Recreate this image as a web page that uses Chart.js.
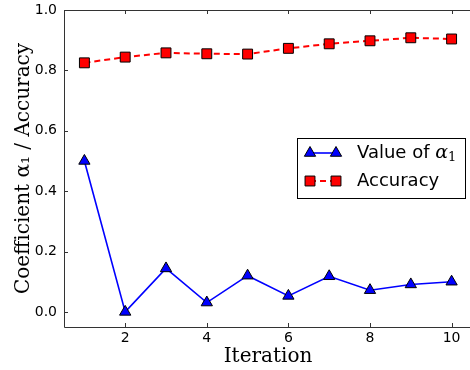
<!DOCTYPE html>
<html>
<head>
<meta charset="utf-8">
<script src="https://cdn.jsdelivr.net/npm/chart.js@4.4.2/dist/chart.umd.min.js"></script>
<style>
  html, body { margin: 0; padding: 0; background: #fff; overflow: hidden; }
  #marcoPagina { width: 470px; height: 370px; overflow: hidden; position: relative; }
  #grafico { display: block; }
</style>
</head>
<body>
<div id="marcoPagina"><canvas id="grafico" width="480" height="370"></canvas></div>
<script>
// datos
const iteraciones = [1, 2, 3, 4, 5, 6, 7, 8, 9, 10];
const valorAlfa = [0.50, 0.00, 0.144, 0.031, 0.120, 0.053, 0.118, 0.072, 0.091, 0.100];
const precision = [0.825, 0.844, 0.858, 0.855, 0.854, 0.873, 0.888, 0.898, 0.908, 0.904];
const ticksX = [2, 4, 6, 8, 10];
const ticksY = [0.0, 0.2, 0.4, 0.6, 0.8, 1.0];

// marco y marcas hacia adentro (estilo matplotlib clásico)
// el borde derecho queda fuera de la imagen, como en el original
const marco = {
  id: 'marco',
  beforeDatasetsDraw(chart) {
    const { ctx, chartArea: a, scales } = chart;
    ctx.save();
    ctx.strokeStyle = '#333';
    ctx.lineWidth = 1;
    ctx.beginPath();
    ctx.moveTo(a.right, a.top + 0.5); ctx.lineTo(a.left + 0.5, a.top + 0.5);
    ctx.lineTo(a.left + 0.5, a.bottom + 0.5); ctx.lineTo(a.right, a.bottom + 0.5);
    ctx.stroke();
    ctx.beginPath();
    ticksX.forEach(v => {
      const x = Math.round(scales.x.getPixelForValue(v)) + 0.5;
      ctx.moveTo(x, a.bottom); ctx.lineTo(x, a.bottom - 4);
      ctx.moveTo(x, a.top); ctx.lineTo(x, a.top + 4);
    });
    ticksY.forEach(v => {
      const y = Math.round(scales.y.getPixelForValue(v)) + 0.5;
      ctx.moveTo(a.left, y); ctx.lineTo(a.left + 4, y);
    });
    ctx.stroke();
    ctx.restore();
  }
};

// leyenda dentro del área, como en la figura original
const leyenda = {
  id: 'leyenda',
  afterDraw(chart) {
    const ctx = chart.ctx;
    const bx = 297, by = 138, bw = 168, bh = 60;
    ctx.save();
    ctx.fillStyle = '#fff';
    ctx.fillRect(bx, by, bw, bh);
    ctx.strokeStyle = '#000';
    ctx.lineWidth = 1;
    ctx.strokeRect(bx + 0.5, by + 0.5, bw, bh);
    const filas = [153, 181];
    chart.data.datasets.forEach((ds, i) => {
      const y = filas[i];
      ctx.save();
      ctx.strokeStyle = ds.borderColor;
      ctx.lineWidth = ds.borderWidth;
      ctx.setLineDash(ds.borderDash || []);
      ctx.beginPath();
      ctx.moveTo(310, y); ctx.lineTo(336, y);
      ctx.stroke();
      ctx.restore();
      [310, 336].forEach(x => {
        ctx.fillStyle = ds.pointBackgroundColor;
        ctx.strokeStyle = ds.pointBorderColor;
        ctx.lineWidth = ds.pointBorderWidth;
        Chart.helpers.drawPoint(ctx, {
          pointStyle: ds.pointStyle, radius: ds.pointRadius, rotation: 0,
          borderWidth: ds.pointBorderWidth
        }, x, y);
      });
    });
    ctx.fillStyle = '#000';
    ctx.textBaseline = 'middle';
    ctx.font = '18px "DejaVu Sans"';
    ctx.fillText('Value of ', 357, filas[0]);
    const w = ctx.measureText('Value of ').width;
    ctx.font = 'italic 19px "DejaVu Serif"';
    ctx.fillText('α', 357 + w, filas[0]);
    const wa = ctx.measureText('α').width;
    ctx.font = '13px "DejaVu Serif"';
    ctx.fillText('1', 357 + w + wa, filas[0] + 5);
    ctx.font = '18px "DejaVu Sans"';
    ctx.fillText('Accuracy', 357, filas[1]);
    ctx.restore();
  }
};

const sinMargen = (s) => {
  s.paddingTop = 0; s.paddingBottom = 0; s.paddingLeft = 0; s.paddingRight = 0;
};

document.addEventListener('DOMContentLoaded', function() {
  const ctx = document.getElementById('grafico').getContext('2d');
  new Chart(ctx, {
    type: 'line',
    data: {
      datasets: [{
        label: 'Value of α₁',
        data: iteraciones.map((x, i) => ({ x: x, y: valorAlfa[i] })),
        borderColor: '#0000ff',
        borderWidth: 1.6,
        pointStyle: 'triangle',
        pointRadius: 6.5,
        pointBackgroundColor: '#0000ff',
        pointBorderColor: '#000',
        pointBorderWidth: 1,
        tension: 0
      }, {
        label: 'Accuracy',
        data: iteraciones.map((x, i) => ({ x: x, y: precision[i] })),
        borderColor: '#ff0000',
        borderWidth: 2,
        borderDash: [6, 4],
        pointStyle: 'rect',
        pointRadius: 7,
        pointBackgroundColor: '#ff0000',
        pointBorderColor: '#000',
        pointBorderWidth: 1,
        tension: 0
      }]
    },
    options: {
      responsive: false,
      animation: false,
      layout: { padding: { top: 10, right: 6, left: 0, bottom: 0 } },
      plugins: {
        legend: { display: false },
        tooltip: { enabled: false }
      },
      scales: {
        x: {
          type: 'linear',
          min: 0.5,
          max: 10.5,
          afterBuildTicks: (s) => { s.ticks = ticksX.map(v => ({ value: v })); },
          afterFit: (s) => { s.height = 43; sinMargen(s); },
          grid: { display: false, drawTicks: false },
          border: { display: false },
          ticks: { padding: 3, color: '#000', font: { family: 'DejaVu Sans', size: 14 } },
          title: {
            display: true, text: 'Iteration', color: '#000',
            font: { family: 'DejaVu Serif', size: 20 }, padding: { top: 0, bottom: 1 }
          }
        },
        y: {
          min: -0.05,
          max: 1.0,
          afterBuildTicks: (s) => { s.ticks = ticksY.map(v => ({ value: v })); },
          afterFit: (s) => { s.width = 64; sinMargen(s); },
          grid: { display: false, drawTicks: false },
          border: { display: false },
          ticks: {
            padding: 7, color: '#000', font: { family: 'DejaVu Sans', size: 14 },
            callback: (v) => v.toFixed(1)
          },
          title: {
            display: true, text: 'Coefficient α₁ / Accuracy', color: '#000',
            font: { family: 'DejaVu Serif', size: 20 }, padding: { top: 12, bottom: 0 }
          }
        }
      }
    },
    plugins: [marco, leyenda]
  });
});
</script>
</body>
</html>
